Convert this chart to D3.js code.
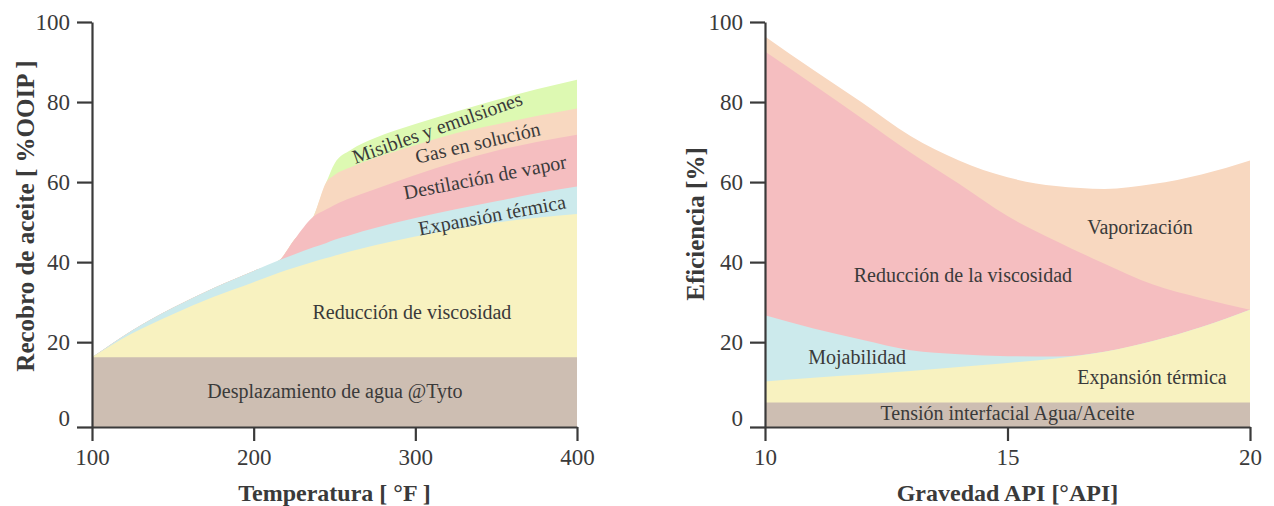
<!DOCTYPE html>
<html lang="es">
<head>
<meta charset="UTF-8">
<title>Recobro térmico</title>
<script src="https://cdnjs.cloudflare.com/ajax/libs/d3/7.8.5/d3.min.js"></script>
<style>
  body { margin: 0; background: #fff; }
  svg text { font-family: "Liberation Serif", "Times New Roman", serif; fill: #3a3a3a; }
</style>
</head>
<body>
<svg id="chart" width="1274" height="506"></svg>
<script>
// ---- panel izquierdo: recobro vs temperatura (bordes superiores acumulados) ----
const temps       = [100, 125, 150, 175, 200, 216, 225, 237, 245, 250, 260, 275, 300, 325, 350, 375, 400];
const aguaTop     = [16.2, 16.2, 16.2, 16.2, 16.2, 16.2, 16.2, 16.2, 16.2, 16.2, 16.2, 16.2, 16.2, 16.2, 16.2, 16.2, 16.2];
const viscTop     = [16.2, 22.2, 27.0, 31.3, 35.0, 37.4, 38.6, 40.1, 41.0, 41.6, 42.7, 44.2, 46.4, 48.3, 49.9, 51.1, 52.0];
const expTop      = [16.2, 23.0, 28.6, 33.5, 37.8, 40.5, 41.9, 43.7, 44.8, 45.6, 46.8, 48.5, 51.0, 53.2, 55.2, 57.2, 58.9];
const destTop     = [16.2, 23.0, 28.6, 33.5, 37.8, 40.5, 45.5, 51.4, 53.2, 54.3, 56.0, 58.2, 61.8, 65.0, 67.8, 70.0, 71.8];
const gasTop      = [16.2, 23.0, 28.6, 33.5, 37.8, 40.5, 45.5, 51.4, 60.0, 61.8, 63.7, 66.0, 69.2, 72.2, 74.4, 76.5, 78.4];
const misTop      = [16.2, 23.0, 28.6, 33.5, 37.8, 40.5, 45.5, 51.4, 60.0, 64.6, 68.0, 71.0, 74.5, 77.6, 80.5, 83.2, 85.6];

// ---- panel derecho: eficiencia vs gravedad API ----
const api         = [10, 11, 12, 13, 14, 15, 16, 17, 18, 19, 20];
const tensionTop  = [4.9, 4.9, 4.9, 4.9, 4.9, 4.9, 4.9, 4.9, 4.9, 4.9, 4.9];
const termicaTop  = [10.2, 11.1, 11.9, 12.8, 13.8, 14.8, 15.9, 17.6, 20.3, 23.8, 28.1];
const mojaTop     = [26.7, 23.4, 20.6, 18.0, 17.0, 16.5, 16.4, 17.6, 20.3, 23.8, 28.1];
const redViscTop  = [92.6, 84.3, 75.9, 67.4, 59.6, 51.5, 45.3, 39.6, 34.4, 31.0, 28.1];
const vaporTop    = [96.4, 88.0, 79.9, 71.5, 65.4, 61.2, 59.0, 58.3, 59.5, 61.9, 65.4];

const yTicks = [0, 20, 40, 60, 80, 100];
const tempTicks = [100, 200, 300, 400];
const apiTicks = [10, 15, 20];

const leftLabels = [
  { text: 'Desplazamiento de agua @Tyto', x: 250.3, y: 7.8, angle: 0 },
  { text: 'Reducción de viscosidad', x: 297.9, y: 27.5, angle: 0 },
  { text: 'Expansión térmica', x: 347.4, y: 51.8, angle: -10.5 },
  { text: 'Destilación de vapor', x: 343.1, y: 61.3, angle: -11 },
  { text: 'Gas en solución', x: 338.5, y: 69.9, angle: -13 },
  { text: 'Misibles y emulsiones', x: 313.5, y: 73.6, angle: -19.5 }
];
const rightLabels = [
  { text: 'Vaporización', x: 17.73, y: 48.8, angle: 0 },
  { text: 'Reducción de la viscosidad', x: 14.08, y: 36.8, angle: 0 },
  { text: 'Mojabilidad', x: 11.9, y: 16.3, angle: 0 },
  { text: 'Expansión térmica', x: 17.98, y: 11.3, angle: 0 },
  { text: 'Tensión interfacial Agua/Aceite', x: 15, y: 2.3, angle: 0 }
];

const colors = {
  brown: '#cdbeb2', yellow: '#f8f2c0', blue: '#cceaec',
  pink: '#f5bec0', peach: '#f8d8c0', green: '#ddf9b2'
};
const axisColor = '#3a3a3a';

const svg = d3.select('#chart');

const y = d3.scaleLinear().domain([-1.2, 100]).range([427, 22]);

function drawPanel(cfg) {
  const g = svg.append('g');
  const x = cfg.x;

  // capas: de la más alta a la más baja, cada una desde la base
  cfg.layers.forEach(layer => {
    const area = d3.area()
      .x((d, i) => x(cfg.xs[i]))
      .y0(y(-1.2))
      .y1(d => y(d))
      .curve(d3.curveMonotoneX);
    g.append('path')
      .datum(layer.values)
      .attr('fill', layer.color)
      .attr('d', area);
  });

  // textos dentro de las áreas
  g.selectAll('text.lbl')
    .data(cfg.labels)
    .enter()
    .append('text')
    .attr('class', 'lbl')
    .attr('transform', d => `translate(${x(d.x)},${y(d.y)}) rotate(${d.angle})`)
    .attr('text-anchor', 'middle')
    .attr('dominant-baseline', 'central')
    .style('font-size', '20px')
    .text(d => d.text);

  // eje y
  const yAxis = g.append('g')
    .attr('transform', `translate(${x.range()[0]},0)`)
    .call(d3.axisLeft(y).tickValues(yTicks).tickSize(15).tickSizeOuter(0).tickPadding(7));
  yAxis.selectAll('.tick').filter(d => d === 0).select('line')
    .attr('transform', `translate(0,${y(-1.2) - y(0)})`);
  yAxis.selectAll('.tick').filter(d => d === 0).select('text')
    .attr('dy', '0.15em');

  // eje x
  const xAxis = g.append('g')
    .attr('transform', `translate(0,${y(-1.2)})`)
    .call(d3.axisBottom(x).tickValues(cfg.ticks).tickSize(14).tickSizeOuter(0).tickPadding(8));

  [yAxis, xAxis].forEach(a => {
    a.selectAll('path, line').attr('stroke', axisColor).attr('stroke-width', 2.2);
    a.selectAll('text').style('font-size', '23px').attr('fill', axisColor)
      .style('font-family', '"Liberation Serif", "Times New Roman", serif');
  });

  // títulos
  g.append('text')
    .attr('x', d3.mean(x.range()))
    .attr('y', 501)
    .attr('text-anchor', 'middle')
    .style('font-size', '24px')
    .style('font-weight', 'bold')
    .text(cfg.xTitle);

  g.append('text')
    .attr('transform', `translate(${cfg.yTitleX},${cfg.yTitleY}) rotate(-90)`)
    .attr('text-anchor', 'middle')
    .attr('dominant-baseline', 'central')
    .style('font-size', '25px')
    .style('font-weight', 'bold')
    .text(cfg.yTitle);
}

drawPanel({
  x: d3.scaleLinear().domain([100, 400]).range([92, 577]),
  xs: temps,
  ticks: tempTicks,
  layers: [
    { values: misTop, color: colors.green },
    { values: gasTop, color: colors.peach },
    { values: destTop, color: colors.pink },
    { values: expTop, color: colors.blue },
    { values: viscTop, color: colors.yellow },
    { values: aguaTop, color: colors.brown }
  ],
  labels: leftLabels,
  xTitle: 'Temperatura [ °F ]',
  yTitle: 'Recobro de aceite [ %OOIP ]',
  yTitleX: 25,
  yTitleY: 216
});

drawPanel({
  x: d3.scaleLinear().domain([10, 20]).range([765, 1250]),
  xs: api,
  ticks: apiTicks,
  layers: [
    { values: vaporTop, color: colors.peach },
    { values: redViscTop, color: colors.pink },
    { values: mojaTop, color: colors.blue },
    { values: termicaTop, color: colors.yellow },
    { values: tensionTop, color: colors.brown }
  ],
  labels: rightLabels,
  xTitle: 'Gravedad API [°API]',
  yTitle: 'Eficiencia [%]',
  yTitleX: 695,
  yTitleY: 224
});
</script>
</body>
</html>
